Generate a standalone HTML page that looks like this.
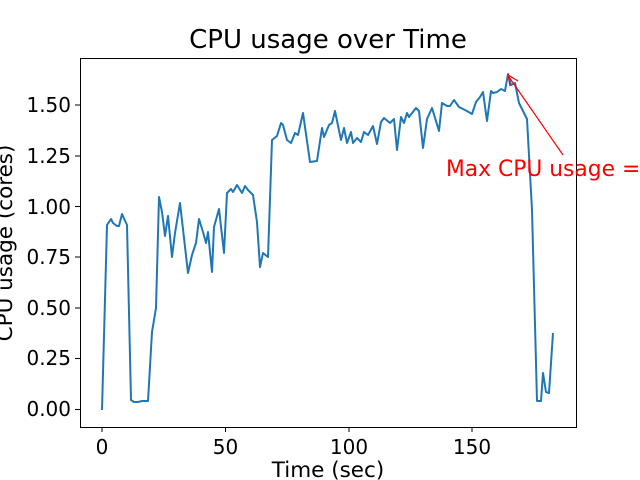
<!DOCTYPE html>
<html><head><meta charset="utf-8"><style>body{margin:0;background:#fff}svg{display:block}</style></head><body>
<svg width="640" height="480" xmlns="http://www.w3.org/2000/svg" font-family="DejaVu Sans, Liberation Sans, sans-serif">
<rect width="640" height="480" fill="#fff"/>
<polyline fill="none" stroke="#1f77b4" stroke-width="2" stroke-linejoin="round" points="102,410 107,225 111,219 113,223 117,226 119,226 122,214 127,225 131,400 134,402 138,402 142,401 148,401 152,332 156,308 159,197 162,212 165,236 168,216 172,257 175,233 180,203 188,273 192,255 196,243 199,219 203,232 206,243 208,232 212,272 214,227 219,209 224,253 227,193 231,189 233,192 237,185 242,193 245,186 248,190 253,195 257,222 260,267 263,253 268,257 272,140 277,136 281,123 283,125 287,140 291,143 295,133 298,135 303,113 310,162 317,161 322,128 324,137 329,125 332,123 335,111 341,140 344,128 347,143 351,132 353,143 357,138 361,142 364,132 368,135 373,126 377,144 381,122 384,118 390,123 394,119 397,150 401,117 404,123 407,113 409,117 416,108 419,111 423,148 427,119 432,108 439,131 442,103 447,106 450,106 454,100 459,107 467,111 472,114 476,102 480,97 483,92 487,121 491,91 493,93 497,92 501,89 505,91 508,74 511,85 515,83 519,103 527,119 532,210 537,401 541,401 543,373 546,392 549,393 553,333"/>
<rect x="80.5" y="58.5" width="496" height="369" fill="none" stroke="#000" stroke-width="1"/>
<g stroke="#000" stroke-width="1">
<line x1="102" y1="427" x2="102" y2="432"/><line x1="225.5" y1="427" x2="225.5" y2="432"/><line x1="349" y1="427" x2="349" y2="432"/><line x1="472" y1="427" x2="472" y2="432"/>
<line x1="75" y1="409.5" x2="80" y2="409.5"/><line x1="75" y1="358.5" x2="80" y2="358.5"/><line x1="75" y1="308" x2="80" y2="308"/><line x1="75" y1="257" x2="80" y2="257"/><line x1="75" y1="206.5" x2="80" y2="206.5"/><line x1="75" y1="156" x2="80" y2="156"/><line x1="75" y1="105" x2="80" y2="105"/>
</g>
<g font-size="20" fill="#000" text-anchor="middle">
<text x="102" y="454">0</text><text x="225.5" y="454">50</text><text x="349" y="454">100</text><text x="472" y="454">150</text>
</g>
<g font-size="20" fill="#000" text-anchor="end">
<text x="71" y="416">0.00</text><text x="71" y="365">0.25</text><text x="71" y="315">0.50</text><text x="71" y="264">0.75</text><text x="71" y="214">1.00</text><text x="71" y="163">1.25</text><text x="71" y="112">1.50</text>
</g>
<text x="328" y="477" font-size="21.5" text-anchor="middle">Time (sec)</text>
<text transform="translate(12,243) rotate(-90)" font-size="21.5" text-anchor="middle">CPU usage (cores)</text>
<text x="328" y="48" font-size="26" text-anchor="middle">CPU usage over Time</text>
<line x1="563" y1="155" x2="509" y2="77" stroke="red" stroke-width="1.2"/>
<polyline points="510,86 508,75 518,81" fill="none" stroke="red" stroke-width="1.2"/>
<text x="446" y="176" font-size="21.8" fill="red">Max CPU usage = 1.65</text>
</svg>
</body></html>
